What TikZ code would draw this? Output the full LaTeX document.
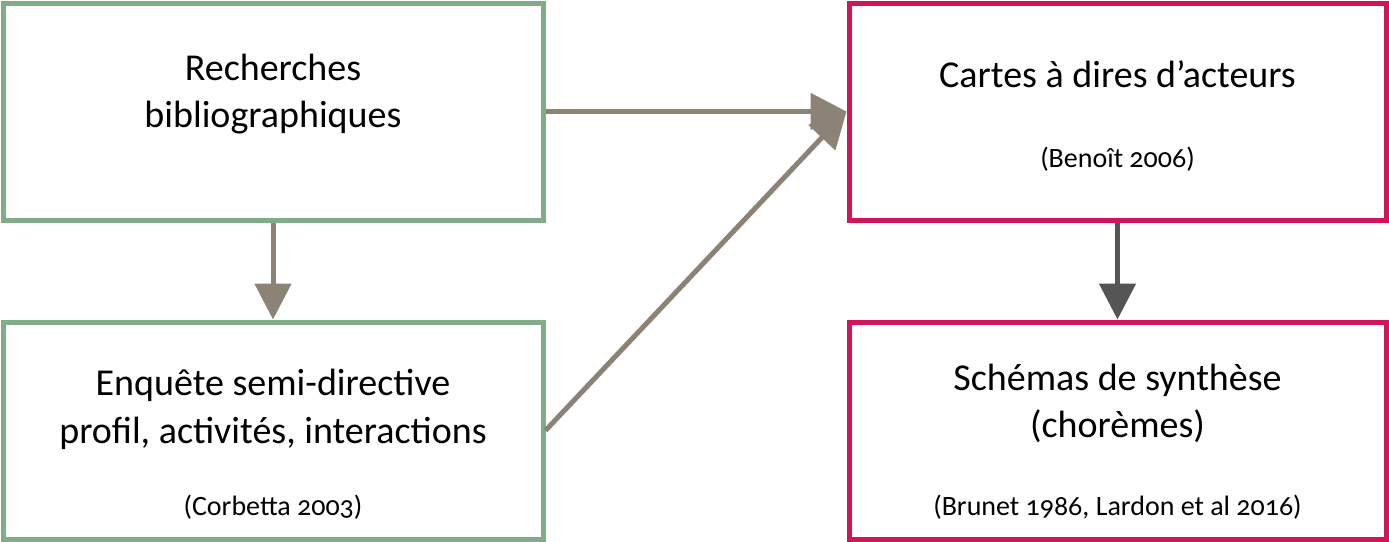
\documentclass[tikz,border=0pt]{standalone}
\usepackage{fontspec}
\setmainfont[Numbers=OldStyle]{Carlito}
\usetikzlibrary{arrows.meta}
\definecolor{boxgreen}{RGB}{130,171,135}
\definecolor{boxred}{RGB}{212,20,88}
\definecolor{arrbrown}{RGB}{140,130,118}
\definecolor{arrdark}{RGB}{85,85,85}
\begin{document}
\begin{tikzpicture}[x=1pt,y=-1pt,
  gbox/.style={draw=boxgreen,line width=5pt,minimum width=540pt,minimum height=217pt,inner sep=0pt},
  rbox/.style={draw=boxred,line width=5pt,minimum width=537pt,minimum height=217pt,inner sep=0pt},
  big/.style={font=\fontsize{38}{44}\selectfont,anchor=base,inner sep=0pt},
  small/.style={font=\fontsize{28}{32}\selectfont,anchor=base,inner sep=0pt},
  conn/.style={line width=5pt,draw=arrbrown,-{Triangle[length=36pt,width=36pt]}},
  conndark/.style={line width=5pt,draw=arrdark,-{Triangle[length=36pt,width=36pt]}}]
\useasboundingbox (0,0) rectangle (1389,541);
\node[gbox] (b1) at (273,111.5) {};
\node[gbox] (b2) at (273,430.5) {};
\node[rbox] (b3) at (1117.5,111.5) {};
\node[rbox] (b4) at (1117.5,430.5) {};
\node[big] (t1a) at (273,80) {Recherches};
\node[big] (t1b) at (273,127) {bibliographiques};
\node[big] (t2a) at (273,395) {Enquête semi-directive};
\node[big] (t2b) at (273,443) {profil, activités, interactions};
\node[small] (t2c) at (273,515) {(Corbetta 2003)};
\node[big] (t3a) at (1117.5,87) {Cartes à dires d’acteurs};
\node[small] (t3b) at (1117.5,167) {(Benoît 2006)};
\node[big] (t4a) at (1117.5,390) {Schémas de synthèse};
\node[big] (t4b) at (1117.5,437) {(chorèmes)};
\node[small] (t4c) at (1117.5,515) {(Brunet 1986, Lardon et al 2016)};
\draw[conn] (b1.east) -- (b3.west);
\draw[conn] (b2.east) -- (b3.west);
\draw[conn] (b1.south) -- (b2.north);
\draw[conndark] (b3.south) -- (b4.north);
\end{tikzpicture}
\end{document}
